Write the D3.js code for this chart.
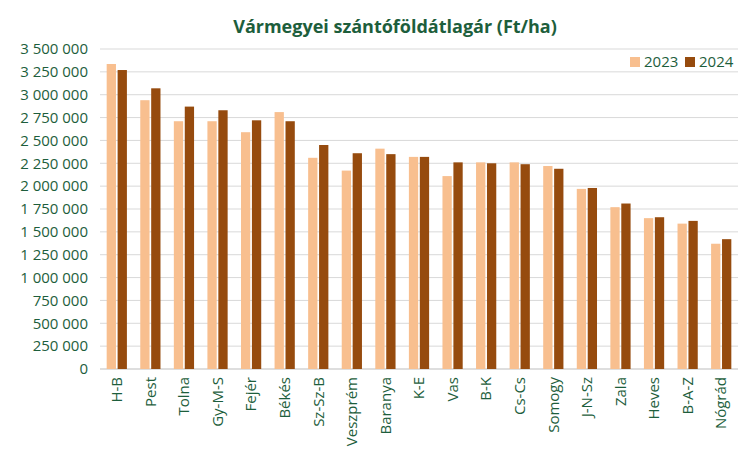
<!DOCTYPE html>
<html>
<head>
<meta charset="utf-8">
<script src="https://cdn.jsdelivr.net/npm/d3@7"></script>
<style>
  body { margin: 0; background: #fff; }
  text { font-family: "Open Sans", "DejaVu Sans", sans-serif; }
</style>
</head>
<body>
<div id="chart"></div>
<script>
var width = 750, height = 461;

// data
var megyek = ["H-B", "Pest", "Tolna", "Gy-M-S", "Fejér", "Békés", "Sz-Sz-B", "Veszprém", "Baranya",
  "K-E", "Vas", "B-K", "Cs-Cs", "Somogy", "J-N-Sz", "Zala", "Heves", "B-A-Z", "Nógrád"];
var ar2023 = [3336000, 2940000, 2710000, 2710000, 2590000, 2810000, 2310000, 2170000, 2410000,
  2320000, 2110000, 2260000, 2260000, 2220000, 1970000, 1770000, 1650000, 1590000, 1370000];
var ar2024 = [3270000, 3070000, 2870000, 2830000, 2720000, 2710000, 2450000, 2360000, 2350000,
  2320000, 2260000, 2250000, 2240000, 2190000, 1980000, 1810000, 1660000, 1620000, 1420000];
var evek = ["2023", "2024"];
var yTicks = d3.range(0, 3500001, 250000);

var colors = { "2023": "#f8bf8f", "2024": "#964b0e" };
var green = "#1d5e3c";

var margin = { top: 49, right: 12, bottom: 92, left: 100 };

var svg = d3.select("#chart").append("svg")
  .attr("width", width)
  .attr("height", height);

var x = d3.scaleBand()
  .domain(megyek)
  .range([margin.left, width - margin.right])
  .paddingInner(0.3)
  .paddingOuter(0.15);

var xSub = d3.scaleBand()
  .domain(evek)
  .range([0, x.bandwidth()])
  .padding(0.15);

var y = d3.scaleLinear()
  .domain([0, 3500000])
  .range([height - margin.bottom, margin.top]);

// number format with space as thousands separator
var fmt = function(d) { return d3.format(",")(d).replace(/,/g, " "); };

// gridlines
svg.append("g")
  .selectAll("line")
  .data(yTicks)
  .enter().append("line")
    .attr("x1", margin.left)
    .attr("x2", width - margin.right)
    .attr("y1", function(d) { return y(d); })
    .attr("y2", function(d) { return y(d); })
    .attr("stroke", function(d) { return d === 0 ? "#bdbdbd" : "#d9d9d9"; })
    .attr("stroke-width", 1);

// y axis labels
svg.append("g")
  .selectAll("text")
  .data(yTicks)
  .enter().append("text")
    .attr("x", margin.left - 12)
    .attr("y", function(d) { return y(d); })
    .attr("dy", "0.35em")
    .attr("text-anchor", "end")
    .style("font-size", "15px")
    .style("fill", green)
    .text(fmt);

// bars
var groups = svg.append("g")
  .selectAll("g")
  .data(megyek)
  .enter().append("g")
    .attr("transform", function(d) { return "translate(" + x(d) + ",0)"; });

groups.selectAll("rect")
  .data(function(d, i) { return [{ ev: "2023", v: ar2023[i] }, { ev: "2024", v: ar2024[i] }]; })
  .enter().append("rect")
    .attr("x", function(d) { return xSub(d.ev); })
    .attr("y", function(d) { return y(d.v); })
    .attr("width", xSub.bandwidth())
    .attr("height", function(d) { return y(0) - y(d.v); })
    .attr("fill", function(d) { return colors[d.ev]; });

// x labels, rotated
svg.append("g")
  .selectAll("text")
  .data(megyek)
  .enter().append("text")
    .attr("transform", function(d) {
      return "translate(" + (x(d) + x.bandwidth() / 2) + "," + (y(0) + 8) + ") rotate(-90)";
    })
    .attr("text-anchor", "end")
    .attr("dy", "0.35em")
    .style("font-size", "15px")
    .style("fill", green)
    .text(function(d) { return d; });

// title
svg.append("text")
  .attr("x", 395)
  .attr("y", 33)
  .attr("text-anchor", "middle")
  .style("font-size", "18px")
  .style("font-weight", "700")
  .style("fill", green)
  .text("Vármegyei szántóföldátlagár (Ft/ha)");

// legend
var legend = svg.append("g")
  .selectAll("g")
  .data(evek)
  .enter().append("g")
    .attr("transform", function(d, i) { return "translate(" + (630 + i * 55) + ",62)"; });
legend.append("rect")
  .attr("x", 0).attr("y", -5)
  .attr("width", 10).attr("height", 10)
  .attr("fill", function(d) { return colors[d]; });
legend.append("text")
  .attr("x", 14)
  .attr("dy", "0.35em")
  .style("font-size", "15px")
  .style("fill", green)
  .text(function(d) { return d; });
</script>
</body>
</html>
